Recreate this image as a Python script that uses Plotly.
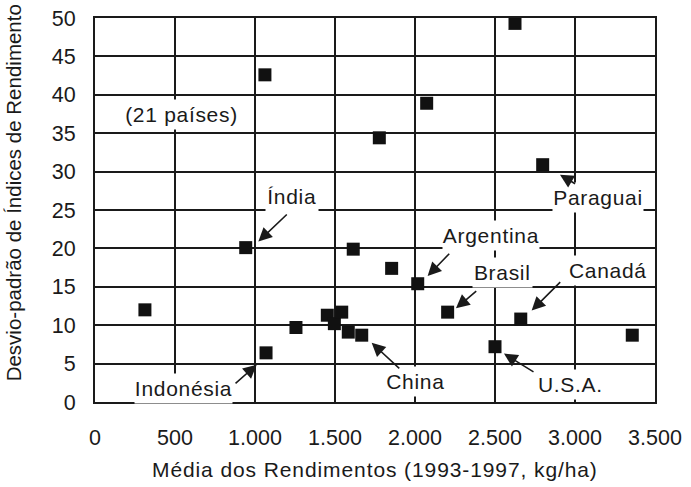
import plotly.graph_objects as go

# Data
media = [312, 942, 1062, 1069, 1256, 1452, 1496, 1542, 1583, 1614, 1667,
         1777, 1854, 2017, 2073, 2204, 2500, 2625, 2661, 2798, 3358]
desvio = [12.0, 20.1, 42.6, 6.4, 9.7, 11.3, 10.2, 11.7, 9.1, 19.9, 8.7,
          34.4, 17.4, 15.4, 38.9, 11.7, 7.2, 49.3, 10.8, 30.9, 8.7]

x_tickvals = [0, 500, 1000, 1500, 2000, 2500, 3000, 3500]
x_ticktext = ["0", "500", "1.000", "1.500", "2.000", "2.500", "3.000", "3.500"]
y_tickvals = [0, 5, 10, 15, 20, 25, 30, 35, 40, 45, 50]

# labels: text, x, y
labels = [
    ("(21 países)", 541, 37.4),
    ("Índia", 1229, 26.8),
    ("Paraguai", 3146, 26.6),
    ("Argentina", 2475, 21.7),
    ("Brasil", 2548, 16.9),
    ("Canadá", 3204, 17.1),
    ("China", 2000, 2.7),
    ("U.S.A.", 2969, 2.3),
    ("Indonésia", 552, 1.8),
]
# arrows: tail x, tail y, tip x, tip y
arrows = [
    (1208, 24.6, 1021, 20.9),   # Índia
    (869, 2.25, 1011, 4.86),    # Indonésia
    (1911, 4.2, 1729, 7.7),     # China
    (2223, 19.5, 2079, 16.4),   # Argentina
    (2392, 14.6, 2256, 12.2),   # Brasil
    (2917, 15.8, 2729, 11.9),   # Canadá
    (2750, 3.8, 2556, 6.3),     # U.S.A.
    (3010, 28.3, 2906, 29.6),   # Paraguai
]

FONT = "Liberation Sans, Arial, sans-serif"
INK = "#1a1a1a"

fig = go.Figure()
fig.add_trace(go.Scatter(
    x=media, y=desvio, mode="markers",
    marker=dict(symbol="square", size=13, color="#111111", line=dict(width=0)),
    showlegend=False, cliponaxis=False, hoverinfo="skip",
))

annotations = []
for t, lx, ly in labels:
    annotations.append(dict(
        x=lx, y=ly, xref="x", yref="y", text=t, showarrow=False,
        font=dict(family=FONT, size=21, color=INK),
        bgcolor="white", borderpad=3,
    ))
for tx, ty, hx, hy in arrows:
    annotations.append(dict(
        x=hx, y=hy, xref="x", yref="y", ax=tx, ay=ty, axref="x", ayref="y",
        text="", showarrow=True, arrowhead=2, arrowsize=1.7, arrowwidth=1.6,
        arrowcolor=INK, standoff=0, startstandoff=0,
    ))
ytitle_index = len(annotations)
annotations.append(dict(
    x=-0.146, y=0.544, xref="paper", yref="paper", xanchor="center", yanchor="middle",
    text="Desvio-padrão de Índices de Rendimento", textangle=-90, showarrow=False,
    font=dict(family=FONT, size=20.5, color=INK),
))
xtitle_index = len(annotations)
annotations.append(dict(
    x=0.5, y=-0.176, xref="paper", yref="paper", xanchor="center", yanchor="middle",
    text="Média dos Rendimentos (1993-1997, kg/ha)", showarrow=False,
    font=dict(family=FONT, size=21, color=INK),
))

fig.update_layout(
    template="none",
    width=691, height=487,
    margin=dict(l=95, r=36, t=18, b=85),
    paper_bgcolor="white", plot_bgcolor="white",
    annotations=annotations,
    font=dict(family=FONT, size=21, color=INK),
)
fig.update_xaxes(
    range=[0, 3500], tickvals=x_tickvals, ticktext=x_ticktext,
    showgrid=True, gridcolor=INK, gridwidth=2,
    showline=True, linecolor=INK, linewidth=2, mirror=True,
    zeroline=False, ticks="", ticklabelstandoff=15, automargin=False,
    tickfont=dict(family=FONT, size=21.5, color=INK),
)
fig.update_yaxes(
    range=[0, 50], tickvals=y_tickvals,
    showgrid=True, gridcolor=INK, gridwidth=2,
    showline=True, linecolor=INK, linewidth=2, mirror=True,
    zeroline=False, ticks="", ticklabelstandoff=13, automargin=False,
    tickfont=dict(family=FONT, size=21.5, color=INK),
)

css = (
    "body{margin:0;overflow:hidden;}"
    ".annotation-text{letter-spacing:0.7px;}"
    'g.annotation[data-index="%d"] .annotation-text{letter-spacing:0px;}'
    'g.annotation[data-index="%d"] .annotation-text{letter-spacing:0.9px;}'
) % (ytitle_index, xtitle_index)
post = (
    "var s=document.createElement('style');"
    "s.innerHTML='" + css.replace("'", "\\'") + "';"
    "document.head.appendChild(s);"
)

fig.write_html("out.html", post_script=post, config={"displayModeBar": False})
